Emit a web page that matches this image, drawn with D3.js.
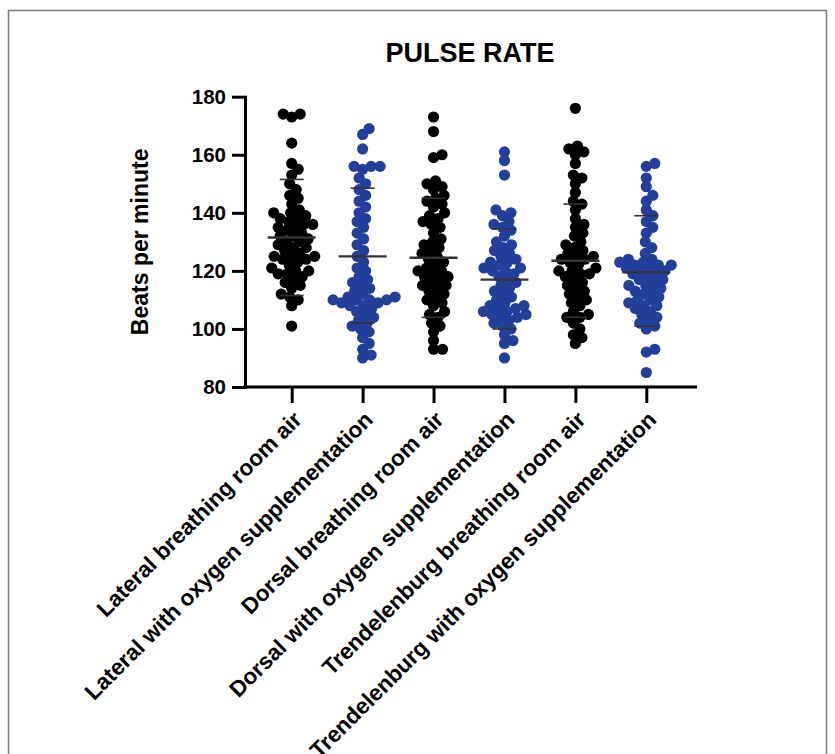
<!DOCTYPE html>
<html>
<head>
<meta charset="utf-8">
<script src="https://cdn.jsdelivr.net/npm/d3@7"></script>
<style>
  body { margin: 0; background: #fff; }
  text { font-family: "Liberation Sans", Arial, sans-serif; font-weight: bold; }
</style>
</head>
<body>
<svg id="chart" width="835" height="754"></svg>
<script>
// groups along the x axis
var groups = [
  "Lateral breathing room air",
  "Lateral with oxygen supplementation",
  "Dorsal breathing room air",
  "Dorsal with oxygen supplementation",
  "Trendelenburg breathing room air",
  "Trendelenburg with oxygen supplementation"
];
var groupColors = ["#000000", "#223f9c", "#000000", "#223f9c", "#000000", "#223f9c"];

// pulse readings, one array per group
var lateralAir = [174,174,173,164,157,155,153,150,148,146,145,143,141,140,140,139,138,138,137,136,136,135,135,134,133,132,132,131,130,130,129,128,128,127,126,125,125,125,124,124,123,122,121,120,120,119,119,118,117,116,115,114,112,111,110,108,101];
var lateralO2 = [169,167,162,156,156,156,155,152,150,148,146,144,142,140,138,137,135,133,131,129,127,125,123,121,120,118,117,116,115,114,113,112,111,111,110,110,110,110,109,109,108,108,107,106,105,104,103,102,101,100,99,97,95,93,91,90];
var dorsalAir = [173,168,160,159,151,150,149,148,146,145,144,143,142,140,139,138,137,136,135,133,131,130,129,128,127,126,125,124,123,122,121,120,120,119,118,118,117,116,115,115,114,113,112,111,110,109,108,106,105,104,102,101,99,96,93,93];
var dorsalO2 = [161,158,153,141,140,139,137,136,135,134,132,130,129,128,127,126,125,124,123,123,122,121,121,120,120,119,118,117,116,115,114,113,112,111,110,109,108,108,107,107,106,106,105,105,104,104,103,102,101,100,98,96,95,90];
var trendAir = [176,163,162,161,160,157,153,152,150,147,144,143,141,138,136,135,133,132,130,129,128,127,126,125,125,124,124,123,122,121,120,120,119,119,118,117,116,115,114,113,112,111,110,109,108,106,105,104,104,102,100,98,97,95];
var trendO2 = [157,156,152,149,146,144,141,139,137,135,133,130,128,126,124,124,123,123,122,122,122,121,121,120,120,119,119,118,117,117,116,115,115,114,113,113,112,111,110,110,109,108,108,107,106,105,104,103,102,101,100,93,92,85];

// mean and mean +/- SD lines as drawn in the picture
var means = [131.5, 125, 124.5, 117, 123.5, 119.5];
var sdHigh = [151.5, 148.5, 145, 134.5, 143, 139];
var sdLow = [111.5, 102, 104, 100, 104, 101];

var yTicks = [80, 100, 120, 140, 160, 180];

var series = [lateralAir, lateralO2, dorsalAir, dorsalO2, trendAir, trendO2];

var svg = d3.select("#chart");

// frame
svg.append("rect")
  .attr("x", 8.5).attr("y", 10.5)
  .attr("width", 818).attr("height", 780)
  .attr("fill", "none")
  .attr("stroke", "#7a7a7a")
  .attr("stroke-width", 1.5);

var plotLeft = 245, plotTop = 96.7, plotBottom = 387, plotRight = 697;

var x = d3.scalePoint().domain(groups).range([291.7, 646.3]);
var y = d3.scaleLinear().domain([80, 180]).range([plotBottom, plotTop]);

// title
svg.append("text")
  .attr("x", 470).attr("y", 62)
  .attr("text-anchor", "middle")
  .attr("font-size", 27)
  .text("PULSE RATE");

// y axis title
svg.append("text")
  .attr("transform", "translate(148," + (plotTop + plotBottom) / 2 + ") rotate(-90)")
  .attr("text-anchor", "middle")
  .attr("font-size", 23)
  .text("Beats per minute");

// y axis
var yAxis = svg.append("g")
  .attr("transform", "translate(" + plotLeft + ",0)")
  .call(d3.axisLeft(y).tickValues(yTicks).tickSize(13).tickSizeOuter(0).tickPadding(6));
yAxis.select(".domain").attr("stroke-width", 3).attr("stroke-linecap", "square");
yAxis.selectAll(".tick line").attr("stroke-width", 3);
yAxis.selectAll(".tick text").attr("font-size", 20.5).attr("fill", "#000")
  .style("font-family", "'Liberation Sans', Arial, sans-serif").style("font-weight", "bold");

// x axis
svg.append("line")
  .attr("x1", plotLeft - 1.5).attr("x2", plotRight)
  .attr("y1", plotBottom).attr("y2", plotBottom)
  .attr("stroke", "#000").attr("stroke-width", 3);

var xAxis = svg.append("g")
  .attr("transform", "translate(0," + plotBottom + ")")
  .call(d3.axisBottom(x).tickSize(16).tickSizeOuter(0));
xAxis.select(".domain").remove();
xAxis.selectAll(".tick line").attr("stroke-width", 3);
xAxis.selectAll(".tick text")
  .attr("font-size", 22.5)
  .attr("fill", "#000")
  .style("font-family", "'Liberation Sans', Arial, sans-serif").style("font-weight", "bold")
  .attr("text-anchor", "end")
  .attr("dy", null)
  .attr("transform", "translate(11,34) rotate(-45)")
  .attr("y", 0).attr("x", 0);

// simple beeswarm: push each point sideways until it stops overlapping
var r = 5.6, minDist = 8.6;
function swarm(values) {
  var placed = [];
  values.slice().sort(function(a, b) { return a - b; }).forEach(function(v) {
    var py = y(v), best = 0;
    for (var k = 0; k < 200; k++) {
      var off = (k % 2 ? 1 : -1) * Math.ceil(k / 2) * 0.5;
      var ok = placed.every(function(p) {
        var dx = p.dx - off, dy = p.y - py;
        return dx * dx + dy * dy >= minDist * minDist;
      });
      if (ok) { best = off; break; }
    }
    placed.push({ v: v, y: py, dx: best });
  });
  return placed;
}

series.forEach(function(vals, i) {
  var g = svg.append("g");
  g.selectAll("circle")
    .data(swarm(vals))
    .enter()
    .append("circle")
    .attr("cx", function(d) { return x(groups[i]) + d.dx; })
    .attr("cy", function(d) { return d.y; })
    .attr("r", r)
    .attr("fill", groupColors[i]);
});

// mean and SD lines
var lineCol = "#333";
groups.forEach(function(gName, i) {
  var cx = x(gName);
  svg.append("line")
    .attr("x1", cx - 24).attr("x2", cx + 24)
    .attr("y1", y(means[i])).attr("y2", y(means[i]))
    .attr("stroke", lineCol).attr("stroke-width", 2.4);
  [sdHigh[i], sdLow[i]].forEach(function(v) {
    svg.append("line")
      .attr("x1", cx - 12).attr("x2", cx + 12)
      .attr("y1", y(v)).attr("y2", y(v))
      .attr("stroke", lineCol).attr("stroke-width", 1.6);
  });
});
</script>
</body>
</html>
